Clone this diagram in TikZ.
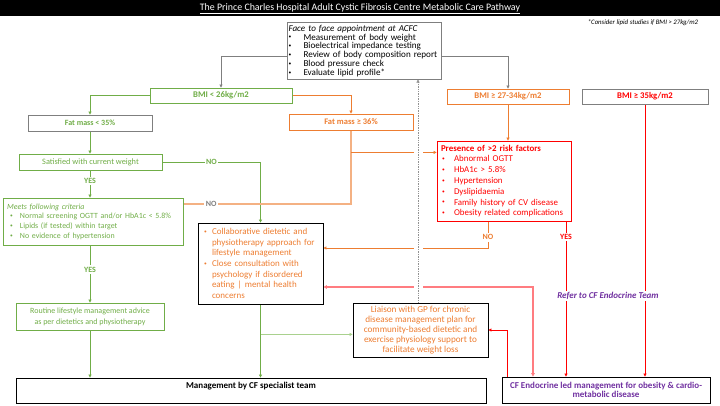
\documentclass[tikz,border=0pt]{standalone}
\usepackage{fontspec}
\setmainfont{Carlito}
\usetikzlibrary{arrows.meta}
\definecolor{cgreen}{HTML}{70AD47}
\definecolor{corange}{HTML}{ED7D31}
\definecolor{cred}{HTML}{FF0000}
\definecolor{cgray}{HTML}{7F7F7F}
\definecolor{cpurple}{HTML}{7030A0}
\definecolor{cpink}{HTML}{FF7C80}
\definecolor{clorange}{HTML}{F4B183}
\definecolor{clgreen}{HTML}{A9D18E}
\pgfdeclarelayer{bg}
\pgfsetlayers{bg,main}
\newcommand\pbul[1]{\makebox[#1][l]{\raisebox{0.25ex}{\fontsize{5.5}{5.5}\selectfont•}}}
\begin{document}
\begin{tikzpicture}[x=1pt,y=-1pt,
  box/.style={draw, line width=0.8pt, inner sep=2pt, align=center},
  tip/.style={-{Triangle[length=3pt,width=3pt]}},
  gline/.style={draw=cgreen, line width=0.8pt},
  oline/.style={draw=corange, line width=0.8pt},
  rline/.style={draw=cred, line width=0.8pt},
  grline/.style={draw=cgray, line width=0.6pt},
  lbl/.style={fill=white, inner sep=1.5pt, font=\fontsize{8}{9}\selectfont\bfseries}
]
\useasboundingbox (0,0) rectangle (720,405);
\fill[black] (0,0) rectangle (720,16);
\node[text=white, font=\fontsize{9.9}{11}\selectfont] (title) at (360,8.5) {\underline{The Prince Charles Hospital Adult Cystic Fibrosis Centre Metabolic Care Pathway}};
\node[font=\fontsize{6.8}{8}\selectfont\itshape] (note) at (643,23) {*Consider lipid studies if BMI > 27kg/m2};

% top box
\node[box, draw=cgray, text width=151pt, inner xsep=1.5pt, minimum height=56pt, align=left, font=\fontsize{9.1}{8.9}\selectfont] (top) at (364,51)
 {\mbox{\textit{Face to face appointment at ACFC}}\\
  \mbox{\pbul{15pt}Measurement of body weight}\\
  \mbox{\pbul{15pt}Bioelectrical impedance testing}\\
  \mbox{\pbul{15pt}Review of body composition report}\\
  \mbox{\pbul{15pt}Blood pressure check}\\
  \mbox{\pbul{15pt}Evaluate lipid profile*}};

% BMI boxes
\node[box, draw=cgreen, text=cgreen, minimum width=142pt, minimum height=15pt, font=\fontsize{8.7}{10}\selectfont\bfseries] (bmi26) at (221,95.5) {BMI < 26kg/m2};
\node[box, draw=corange, text=corange, minimum width=122pt, minimum height=15pt, font=\fontsize{8.7}{10}\selectfont\bfseries] (bmi27) at (508,96.5) {BMI ≥ 27-34kg/m2};
\node[box, draw=cgray, text=cred, minimum width=126pt, minimum height=15pt, font=\fontsize{8.7}{10}\selectfont\bfseries] (bmi35) at (645,96.5) {BMI ≥ 35kg/m2};

% fat mass
\node[box, draw=cgray, text=cgreen, minimum width=124pt, minimum height=16pt, font=\fontsize{8}{9}\selectfont\bfseries] (fat35) at (90,123) {Fat mass < 35\%};
\node[box, draw=corange, text=corange, minimum width=124pt, minimum height=16pt, font=\fontsize{8.5}{9}\selectfont\bfseries] (fat36) at (351,122) {Fat mass ≥ 36\%};

\node[box, draw=cgreen, text=cgreen, minimum width=143pt, minimum height=16pt, font=\fontsize{8.3}{9.5}\selectfont] (sat) at (90.5,162) {Satisfied with current weight};

% criteria
\node[box, draw=cgreen, text=cgreen, text width=172pt, inner xsep=4pt, minimum height=47pt, align=left, font=\fontsize{7.9}{9.6}\selectfont] (crit) at (93,221.5)
 {\textit{Meets following criteria}\\
  \hspace*{3pt}\pbul{10pt}Normal screening OGTT and/or HbA1c < 5.8\%\\
  \hspace*{3pt}\pbul{10pt}Lipids (if tested) within target\\
  \hspace*{3pt}\pbul{10pt}No evidence of hypertension};

% risk
\node[box, draw=cred, text=cred, text width=126pt, inner xsep=4pt, minimum height=80pt, align=left, font=\fontsize{8.9}{10.8}\selectfont] (risk) at (504,181)
 {\textbf{Presence of >2 risk factors}\\
  \hspace*{1pt}\pbul{12pt}Abnormal OGTT\\
  \hspace*{1pt}\pbul{12pt}HbA1c > 5.8\%\\
  \hspace*{1pt}\pbul{12pt}Hypertension\\
  \hspace*{1pt}\pbul{12pt}Dyslipidaemia\\
  \hspace*{1pt}\pbul{12pt}Family history of CV disease\\
  \hspace*{1pt}\pbul{12pt}Obesity related complications};

% collaborative
\node[box, draw=black, text=corange, text width=117pt, inner xsep=4pt, minimum height=81pt, align=left, font=\fontsize{9}{10.7}\selectfont] (collab) at (260.5,263.5)
 {\hspace*{2pt}\pbul{8pt}Collaborative dietetic and\\
  \hspace*{10pt}physiotherapy approach for\\
  \hspace*{10pt}lifestyle management\\
  \hspace*{2pt}\pbul{8pt}Close consultation with\\
  \hspace*{10pt}psychology if disordered\\
  \hspace*{10pt}eating | mental health\\
  \hspace*{10pt}concerns};

% liaison
\node[box, draw=black, text=corange, minimum width=135pt, minimum height=54pt, font=\fontsize{9.2}{9.8}\selectfont] (liaison) at (420.5,330)
 {Liaison with GP for chronic\\disease management plan for\\community-based dietetic and\\exercise physiology support to\\facilitate weight loss};

% routine
\node[box, draw=cgreen, text=cgreen, minimum width=148pt, minimum height=27pt, font=\fontsize{8}{11}\selectfont] (routine) at (90,316.5)
 {Routine lifestyle management advice\\as per dietetics and physiotherapy};

% bottom boxes
\node[box, draw=black, minimum width=470pt, minimum height=25pt,
  label={[anchor=north, yshift=-1.5pt, font=\fontsize{9}{10}\selectfont\bfseries]north:Management by CF specialist team}] (mgmt) at (251,390.5) {};
\node[box, draw=black, text=cpurple, minimum width=208pt, minimum height=26pt, font=\fontsize{9}{9.5}\selectfont\bfseries] (endo) at (606,390)
 {CF Endocrine led management for obesity \& cardio-\\metabolic disease};

\begin{pgfonlayer}{bg}
% from top box
\draw[grline, tip] ([yshift=-5pt]top.west) -| (bmi26.north);
\draw[grline, tip] ([yshift=-5pt]top.east) -| (bmi27.north);
% green branch
\draw[gline, tip] (bmi26.west) -| (fat35.north);
\draw[oline, tip] (bmi26.east) -| (fat36.north);
\draw[gline, tip] (fat35.south) -- (fat35.south |- sat.north);
\draw[gline, tip] (sat.east) -| node[lbl, text=cgreen, pos=0.25] {NO} (collab.north);
\draw[gline, tip] (sat.south -| fat35.south) -- node[lbl, text=cgreen, pos=0.4] {YES} (fat35.south |- crit.north);
\draw[gline, tip] (routine.north |- crit.south) -- node[lbl, text=cgreen, pos=0.42] {YES} (routine.north);
\draw[gline, tip] (routine.south) -- (routine.south |- mgmt.north);
\draw[gline, tip] (collab.south) -- (collab.south |- mgmt.north);
\path (collab.south) ++(0,30) coordinate (br);
\draw[draw=clgreen, line width=1.3pt, tip] (br) -- (br -| liaison.west);
% orange from fat mass >= 36
\draw[draw=clorange, line width=1.3pt] (fat36.south) |- node[lbl, text=cgray, pos=0.917] {NO} ([yshift=17.5pt]crit.east);
\path (fat36.south) ++(0,22) coordinate (f36b);
\draw[oline, tip] (f36b) -- (f36b -| risk.west);
\draw[oline, tip] (bmi27.south) -- (bmi27.south |- risk.north);
% risk outputs
\draw[oline, tip] ([xshift=-16pt]risk.south) |- node[lbl, text=corange, pos=0.3] {NO} ([yshift=15.5pt]collab.east);
\draw[rline, tip] ([xshift=62pt]risk.south) -- node[lbl, text=cred, pos=0.1] {YES} ([xshift=62pt]risk.south |- endo.north);
\draw[rline, tip] (bmi35.south) -- (bmi35.south |- endo.north);
\draw[draw=cpink, line width=1.3pt, {Triangle[length=3.5pt,width=3.5pt]}-{Triangle[length=3.5pt,width=3.5pt]}]
  ([yshift=-23.5pt]collab.east) -| ([xshift=-73pt]endo.north);
\draw[rline, tip] ([xshift=-99pt]endo.north) |- (liaison.east);
% gray return line with gaps
\draw[white, line width=9pt] ([xshift=-2.5pt]liaison.north) -- ([xshift=-2.5pt]liaison.north |- top.south);
\draw[draw=cgray!85, line width=0.5pt, dash pattern=on 1pt off 0.7pt, tip] ([xshift=-2.5pt]liaison.north) -- ([xshift=-2.5pt]liaison.north |- top.south);
\end{pgfonlayer}

\node[fill=white, inner sep=1.5pt, text=cpurple, font=\fontsize{9}{10}\selectfont\bfseries\itshape] (refer) at (608,296) {Refer to CF Endocrine Team};
\end{tikzpicture}
\end{document}
